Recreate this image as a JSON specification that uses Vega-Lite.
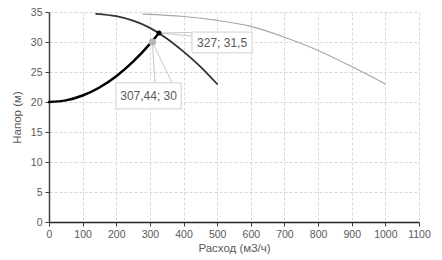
{
  "$schema": "https://vega.github.io/schema/vega-lite/v6.json",
  "width": 370,
  "height": 210,
  "autosize": {"type": "none"},
  "padding": {"left": 49, "top": 12, "right": 23, "bottom": 38},
  "background": "white",
  "config": {
    "view": {"stroke": null},
    "font": "Liberation Sans",
    "axis": {
      "labelFont": "Liberation Sans",
      "titleFont": "Liberation Sans",
      "labelColor": "#595959",
      "titleColor": "#595959",
      "labelFontSize": 10.5,
      "titleFontSize": 11.5,
      "titleFontWeight": "normal",
      "gridColor": "#d9d9d9",
      "gridDash": [3, 2],
      "gridWidth": 1,
      "domainColor": "#404040",
      "domainWidth": 1.5,
      "tickColor": "#404040",
      "tickSize": 4,
      "labelPadding": 3,
      "labelOverlap": false,
      "labelFlush": false
    }
  },
  "datasets": {
    "curves": [
      {"series": "system", "q": 0, "h": 20},
      {"series": "system", "q": 50, "h": 20.27},
      {"series": "system", "q": 100, "h": 21.08},
      {"series": "system", "q": 150, "h": 22.42},
      {"series": "system", "q": 200, "h": 24.3},
      {"series": "system", "q": 250, "h": 26.72},
      {"series": "system", "q": 300, "h": 29.68},
      {"series": "system", "q": 327, "h": 31.5},
      {"series": "pump1", "q": 140, "h": 34.7},
      {"series": "pump1", "q": 200, "h": 34.3},
      {"series": "pump1", "q": 250, "h": 33.55},
      {"series": "pump1", "q": 300, "h": 32.35},
      {"series": "pump1", "q": 350, "h": 30.6},
      {"series": "pump1", "q": 400, "h": 28.4},
      {"series": "pump1", "q": 450, "h": 25.9},
      {"series": "pump1", "q": 500, "h": 23},
      {"series": "pump2", "q": 280, "h": 34.65},
      {"series": "pump2", "q": 400, "h": 34.25},
      {"series": "pump2", "q": 500, "h": 33.6},
      {"series": "pump2", "q": 600, "h": 32.6},
      {"series": "pump2", "q": 700, "h": 30.8},
      {"series": "pump2", "q": 800, "h": 28.6},
      {"series": "pump2", "q": 900, "h": 25.9},
      {"series": "pump2", "q": 1000, "h": 23}
    ],
    "leaders": [
      {"q": 307.44, "h": 30, "q2": 315, "h2": 23.2},
      {"q": 307.44, "h": 30, "q2": 366, "h2": 23.2},
      {"q": 327, "h": 31.5, "q2": 425, "h2": 31.6},
      {"q": 327, "h": 31.5, "q2": 425, "h2": 31.0}
    ],
    "labels": [
      {"label": "307,44; 30", "q1": 199, "q2": 393, "h1": 18.85, "h2": 23.2, "qc": 296, "hc": 21.0},
      {"label": "327; 31,5", "q1": 425, "q2": 604, "h1": 28.2, "h2": 31.65, "qc": 514.5, "hc": 29.9}
    ],
    "points": [
      {"name": "op1", "q": 307.44, "h": 30},
      {"name": "op2", "q": 327, "h": 31.5}
    ]
  },
  "layer": [
    {
      "data": {"name": "curves"},
      "mark": {"type": "line", "interpolate": "monotone", "strokeCap": "round"},
      "encoding": {
        "x": {
          "field": "q", "type": "quantitative",
          "scale": {"domain": [0, 1100], "nice": false},
          "axis": {"values": [0,100,200,300,400,500,600,700,800,900,1000,1100], "format": "d", "title": "Расход (м3/ч)", "titlePadding": 3, "domainColor": "#262626"}
        },
        "y": {
          "field": "h", "type": "quantitative",
          "scale": {"domain": [0, 35], "nice": false},
          "axis": {"values": [0,5,10,15,20,25,30,35], "title": "Напор (м)", "titlePadding": 8}
        },
        "color": {
          "field": "series", "type": "nominal",
          "scale": {"domain": ["system", "pump1", "pump2"], "range": ["#000000", "#333333", "#a6a6a6"]},
          "legend": null
        },
        "strokeWidth": {
          "field": "series", "type": "nominal",
          "scale": {"domain": ["system", "pump1", "pump2"], "range": [2.5, 1.1, 1.4]},
          "legend": null
        }
      }
    },
    {
      "data": {"name": "leaders"},
      "mark": {"type": "rule", "color": "#c8c8c8", "strokeWidth": 1},
      "encoding": {
        "x": {"field": "q", "type": "quantitative",
          "axis": {"values": [0,100,200,300,400,500,600,700,800,900,1000,1100], "format": "d", "title": "Расход (м3/ч)", "titlePadding": 3, "domainColor": "#262626"}},
        "y": {"field": "h", "type": "quantitative",
          "axis": {"values": [0,5,10,15,20,25,30,35], "title": "Напор (м)", "titlePadding": 8}},
        "x2": {"field": "q2"},
        "y2": {"field": "h2"}
      }
    },
    {
      "data": {"name": "labels"},
      "mark": {"type": "rect", "fill": "white", "stroke": "#d0d0d0", "strokeWidth": 1},
      "encoding": {
        "x": {"field": "q1", "type": "quantitative",
          "axis": {"values": [0,100,200,300,400,500,600,700,800,900,1000,1100], "format": "d", "title": "Расход (м3/ч)", "titlePadding": 3, "domainColor": "#262626"}},
        "x2": {"field": "q2"},
        "y": {"field": "h1", "type": "quantitative",
          "axis": {"values": [0,5,10,15,20,25,30,35], "title": "Напор (м)", "titlePadding": 8}},
        "y2": {"field": "h2"}
      }
    },
    {
      "data": {"name": "labels"},
      "mark": {"type": "text", "font": "Liberation Sans", "fontSize": 12, "color": "#595959", "align": "center", "baseline": "middle"},
      "encoding": {
        "x": {"field": "qc", "type": "quantitative",
          "axis": {"values": [0,100,200,300,400,500,600,700,800,900,1000,1100], "format": "d", "title": "Расход (м3/ч)", "titlePadding": 3, "domainColor": "#262626"}},
        "y": {"field": "hc", "type": "quantitative",
          "axis": {"values": [0,5,10,15,20,25,30,35], "title": "Напор (м)", "titlePadding": 8}},
        "text": {"field": "label"}
      }
    },
    {
      "data": {"name": "points"},
      "mark": {"type": "point", "filled": true, "opacity": 1},
      "encoding": {
        "x": {"field": "q", "type": "quantitative",
          "axis": {"values": [0,100,200,300,400,500,600,700,800,900,1000,1100], "format": "d", "title": "Расход (м3/ч)", "titlePadding": 3, "domainColor": "#262626"}},
        "y": {"field": "h", "type": "quantitative",
          "axis": {"values": [0,5,10,15,20,25,30,35], "title": "Напор (м)", "titlePadding": 8}},
        "color": {
          "field": "name", "type": "nominal",
          "scale": {"domain": ["op1", "op2"], "range": ["#b4b4b4", "#000000"]},
          "legend": null
        },
        "size": {
          "field": "name", "type": "nominal",
          "scale": {"domain": ["op1", "op2"], "range": [50, 25]},
          "legend": null
        }
      }
    }
  ],
  "resolve": {"scale": {"color": "independent", "size": "independent"}}
}
